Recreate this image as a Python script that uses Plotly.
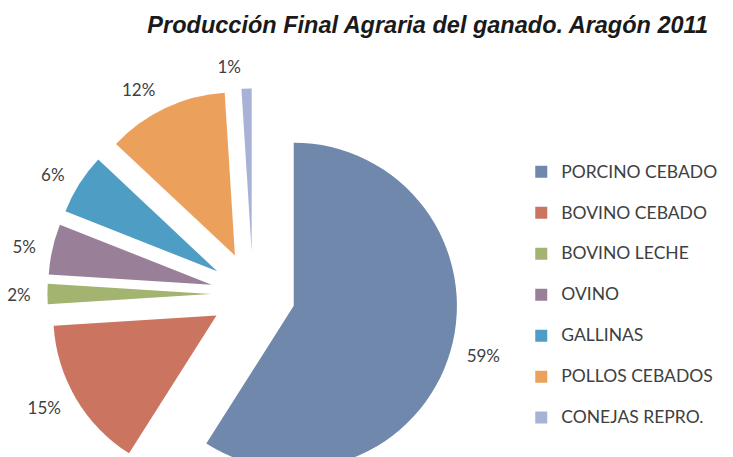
import plotly.graph_objects as go

labels = ["PORCINO CEBADO", "BOVINO CEBADO", "BOVINO LECHE", "OVINO",
          "GALLINAS", "POLLOS CEBADOS", "CONEJAS REPRO."]
values = [59, 15, 2, 5, 6, 12, 1]
colors = ["#6F88AB", "#CB7560", "#A2B46F", "#9A7F98", "#4E9DC4", "#EBA05C", "#A8B2D6"]
PULL = 0.26

W, H = 733, 515
# pie geometry (pixels)
CX, CY, R = 253, 294, 163
D = PULL * R                 # explode distance
HALF = R + D                 # half box of the drawn pie
R2 = R * 1.07                # radius used to place the outside percentage labels
PULL2 = D / R2
HALF2 = R2 + D
ml, mr = CX - HALF2, W - (CX + HALF2)
mt, mb = CY - HALF2, H - (CY + HALF2)
PW = 2 * HALF2
dom = [(HALF2 - HALF) / PW, (HALF2 + HALF) / PW]

legend_labels = ['<span style="font-size:17.5px">' + l + '</span><br> ' for l in labels]

fig = go.Figure()
fig.add_trace(go.Pie(
    labels=legend_labels,
    values=values,
    sort=False,
    direction="clockwise",
    rotation=0,
    pull=[PULL] * len(values),
    marker=dict(colors=colors, line=dict(width=0)),
    textinfo="none",
    domain=dict(x=dom, y=dom),
    hoverinfo="percent",
))
# percentage labels (same slices, transparent, slightly larger radius)
fig.add_trace(go.Pie(
    labels=legend_labels,
    values=values,
    sort=False,
    direction="clockwise",
    rotation=0,
    pull=[PULL2] * len(values),
    marker=dict(colors=["rgba(0,0,0,0)"] * len(values), line=dict(width=0)),
    textposition="outside",
    texttemplate="%{percent:.0%}",
    textfont=dict(family="Lato, Open Sans, sans-serif", size=17, color="#404040"),
    automargin=False,
    showlegend=False,
    hoverinfo="skip",
    domain=dict(x=[0, 1], y=[0, 1]),
))

fig.update_layout(
    width=W, height=H,
    margin=dict(l=ml, r=mr, t=mt, b=mb),
    paper_bgcolor="white",
    plot_bgcolor="white",
    title=dict(
        text="<b><i>Producción Final Agraria del ganado. Aragón 2011</i></b>",
        xref="container", yref="container",
        x=708 / W, xanchor="right",
        y=1 - 25 / H, yanchor="middle",
        font=dict(family="Liberation Sans, Arial, sans-serif",
                  size=23.5, color="#1a1a1a"),
    ),
    legend=dict(
        x=(521 - ml) / PW, xanchor="left",
        y=1 - (156 - mt) / PW, yanchor="top",
        valign="top",
        font=dict(family="Lato, Open Sans, sans-serif", size=14.6, color="#404040"),
        bgcolor="rgba(0,0,0,0)",
    ),
)

fig.write_html(
    "out.html",
    config={"displayModeBar": False},
    post_script="document.body.style.margin='0';document.body.style.overflow='hidden';",
)
